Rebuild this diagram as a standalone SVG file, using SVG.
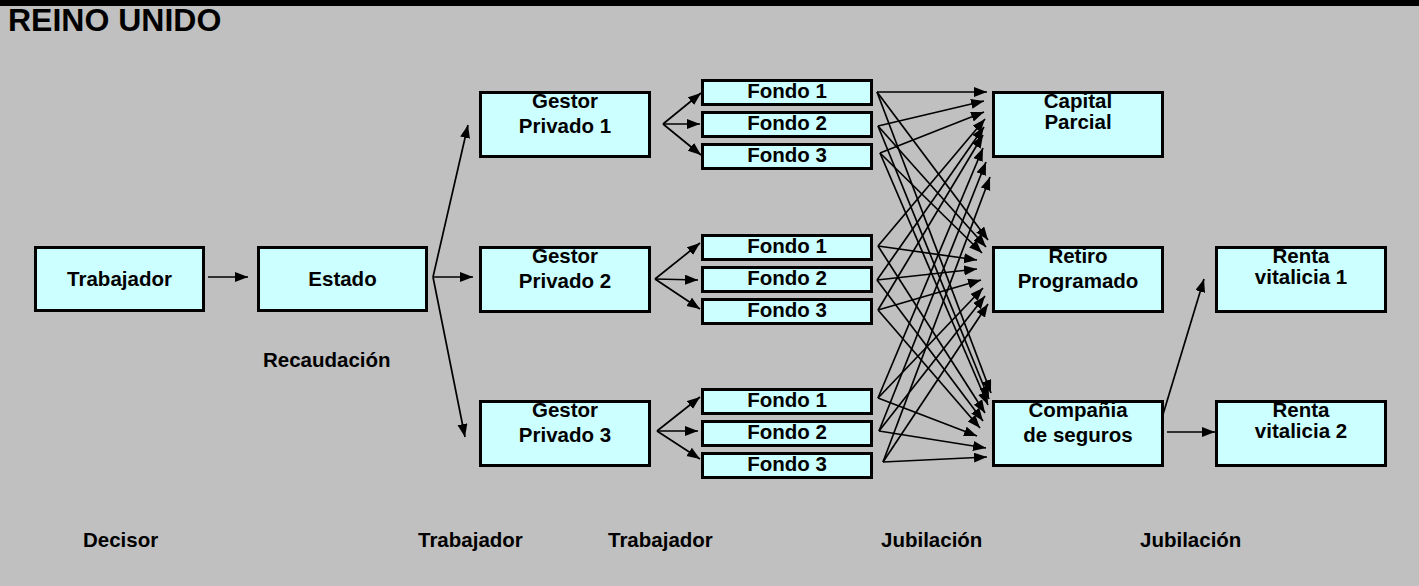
<svg xmlns="http://www.w3.org/2000/svg" width="1419" height="586" viewBox="0 0 1419 586">
  <style>
    .box { fill: #CCFFFF; stroke: #000; stroke-width: 3; }
    .t { font-family: "Liberation Sans", Arial, sans-serif; font-weight: bold; font-size: 20.5px; fill: #000; }
    .c { text-anchor: middle; }
    .title { font-family: "Liberation Sans", Arial, sans-serif; font-weight: bold; font-size: 32px; fill: #000; }
    .arr { stroke: #000; stroke-width: 1.7; fill: none; marker-end: url(#head); }
  </style>
  <defs>
    <marker id="head" markerUnits="userSpaceOnUse" markerWidth="14" markerHeight="11" refX="13" refY="5" orient="auto">
      <path d="M0,0 L13,5 L0,10 Z" fill="#000"/>
    </marker>
  </defs>

  <!-- backdrop and top bar -->
  <rect x="0" y="0" width="1419" height="586" fill="#C0C0C0"/>
  <rect x="0" y="0" width="1419" height="6" fill="#000"/>
  <text class="title" x="8" y="31">REINO UNIDO</text>

  <!-- column and step captions -->
  <g id="captions">
    <text class="t" x="263" y="367">Recaudación</text>
    <text class="t" x="83" y="547">Decisor</text>
    <text class="t" x="418" y="547">Trabajador</text>
    <text class="t" x="608" y="547">Trabajador</text>
    <text class="t" x="881" y="547">Jubilación</text>
    <text class="t" x="1140" y="547">Jubilación</text>
  </g>

  <!-- connectors -->
  <g id="connectors">
    <line class="arr" x1="208" y1="277" x2="248" y2="277"/>
    <line class="arr" x1="433" y1="277" x2="468" y2="125"/>
    <line class="arr" x1="433" y1="277" x2="473" y2="277"/>
    <line class="arr" x1="433" y1="277" x2="465" y2="437"/>

    <line class="arr" x1="663" y1="124" x2="701" y2="93"/>
    <line class="arr" x1="663" y1="124" x2="700" y2="124"/>
    <line class="arr" x1="663" y1="124" x2="701" y2="155"/>
    <line class="arr" x1="655" y1="279" x2="700" y2="243"/>
    <line class="arr" x1="655" y1="279" x2="698" y2="280"/>
    <line class="arr" x1="655" y1="279" x2="700" y2="309"/>
    <line class="arr" x1="657" y1="431" x2="700" y2="397"/>
    <line class="arr" x1="657" y1="431" x2="698" y2="431"/>
    <line class="arr" x1="657" y1="431" x2="700" y2="459"/>

    <!-- funds of manager 1 -->
    <line class="arr" x1="877" y1="92" x2="987" y2="92"/>
    <line class="arr" x1="877" y1="92" x2="988" y2="240"/>
    <line class="arr" x1="877" y1="92" x2="991" y2="393"/>
    <line class="arr" x1="878" y1="126" x2="984" y2="101"/>
    <line class="arr" x1="878" y1="126" x2="986" y2="247"/>
    <line class="arr" x1="878" y1="126" x2="989" y2="399"/>
    <line class="arr" x1="880" y1="153" x2="984" y2="112"/>
    <line class="arr" x1="880" y1="153" x2="982" y2="253"/>
    <line class="arr" x1="880" y1="153" x2="988" y2="405"/>

    <!-- funds of manager 2 -->
    <line class="arr" x1="878" y1="246" x2="985" y2="119"/>
    <line class="arr" x1="878" y1="246" x2="977" y2="260"/>
    <line class="arr" x1="878" y1="246" x2="985" y2="413"/>
    <line class="arr" x1="877" y1="280" x2="984" y2="127"/>
    <line class="arr" x1="877" y1="280" x2="977" y2="269"/>
    <line class="arr" x1="877" y1="280" x2="983" y2="421"/>
    <line class="arr" x1="878" y1="310" x2="983" y2="135"/>
    <line class="arr" x1="878" y1="310" x2="981" y2="280"/>
    <line class="arr" x1="878" y1="310" x2="980" y2="428"/>

    <!-- funds of manager 3 -->
    <line class="arr" x1="878" y1="398" x2="983" y2="148"/>
    <line class="arr" x1="878" y1="398" x2="983" y2="288"/>
    <line class="arr" x1="878" y1="398" x2="977" y2="436"/>
    <line class="arr" x1="879" y1="431" x2="986" y2="162"/>
    <line class="arr" x1="879" y1="431" x2="985" y2="296"/>
    <line class="arr" x1="879" y1="431" x2="986" y2="448"/>
    <line class="arr" x1="883" y1="462" x2="990" y2="177"/>
    <line class="arr" x1="883" y1="462" x2="988" y2="304"/>
    <line class="arr" x1="883" y1="462" x2="987" y2="457"/>

    <line class="arr" x1="1161" y1="421" x2="1204" y2="279"/>
    <line class="arr" x1="1167" y1="432" x2="1215" y2="432"/>
  </g>

  <!-- nodes -->
  <g id="trabajador">
    <rect class="box" x="35.5" y="247.5" width="168" height="63"/>
    <text class="t c" x="119.5" y="286">Trabajador</text>
  </g>
  <g id="estado">
    <rect class="box" x="258.5" y="247.5" width="168" height="63"/>
    <text class="t c" x="342.5" y="286">Estado</text>
  </g>

  <g id="gestor1">
    <rect class="box" x="480.5" y="92.5" width="169" height="64"/>
    <text class="t c" x="565" y="108">Gestor</text>
    <text class="t c" x="565" y="133">Privado 1</text>
  </g>
  <g id="gestor2">
    <rect class="box" x="480.5" y="247.5" width="169" height="64"/>
    <text class="t c" x="565" y="263">Gestor</text>
    <text class="t c" x="565" y="288">Privado 2</text>
  </g>
  <g id="gestor3">
    <rect class="box" x="480.5" y="401.5" width="169" height="64"/>
    <text class="t c" x="565" y="417">Gestor</text>
    <text class="t c" x="565" y="442">Privado 3</text>
  </g>

  <g id="g1-fondo1">
    <rect class="box" x="702.5" y="80.5" width="169" height="24"/>
    <text class="t c" x="787" y="98">Fondo 1</text>
  </g>
  <g id="g1-fondo2">
    <rect class="box" x="702.5" y="112.5" width="169" height="24"/>
    <text class="t c" x="787" y="130">Fondo 2</text>
  </g>
  <g id="g1-fondo3">
    <rect class="box" x="702.5" y="144.5" width="169" height="24"/>
    <text class="t c" x="787" y="162">Fondo 3</text>
  </g>
  <g id="g2-fondo1">
    <rect class="box" x="702.5" y="235.5" width="169" height="24"/>
    <text class="t c" x="787" y="253">Fondo 1</text>
  </g>
  <g id="g2-fondo2">
    <rect class="box" x="702.5" y="267.5" width="169" height="24"/>
    <text class="t c" x="787" y="285">Fondo 2</text>
  </g>
  <g id="g2-fondo3">
    <rect class="box" x="702.5" y="299.5" width="169" height="24"/>
    <text class="t c" x="787" y="317">Fondo 3</text>
  </g>
  <g id="g3-fondo1">
    <rect class="box" x="702.5" y="389.5" width="169" height="24"/>
    <text class="t c" x="787" y="407">Fondo 1</text>
  </g>
  <g id="g3-fondo2">
    <rect class="box" x="702.5" y="421.5" width="169" height="24"/>
    <text class="t c" x="787" y="439">Fondo 2</text>
  </g>
  <g id="g3-fondo3">
    <rect class="box" x="702.5" y="453.5" width="169" height="24"/>
    <text class="t c" x="787" y="471">Fondo 3</text>
  </g>

  <g id="capital-parcial">
    <rect class="box" x="993.5" y="92.5" width="169" height="64"/>
    <text class="t c" x="1078" y="108">Capital</text>
    <text class="t c" x="1078" y="129">Parcial</text>
  </g>
  <g id="retiro-programado">
    <rect class="box" x="993.5" y="247.5" width="169" height="64"/>
    <text class="t c" x="1078" y="263">Retiro</text>
    <text class="t c" x="1078" y="288">Programado</text>
  </g>
  <g id="compania-seguros">
    <rect class="box" x="993.5" y="401.5" width="169" height="64"/>
    <text class="t c" x="1078" y="417">Compañia</text>
    <text class="t c" x="1078" y="442">de seguros</text>
  </g>

  <g id="renta-vitalicia-1">
    <rect class="box" x="1216.5" y="247.5" width="169" height="64"/>
    <text class="t c" x="1301" y="263">Renta</text>
    <text class="t c" x="1301" y="284">vitalicia 1</text>
  </g>
  <g id="renta-vitalicia-2">
    <rect class="box" x="1216.5" y="401.5" width="169" height="64"/>
    <text class="t c" x="1301" y="417">Renta</text>
    <text class="t c" x="1301" y="438">vitalicia 2</text>
  </g>
</svg>
